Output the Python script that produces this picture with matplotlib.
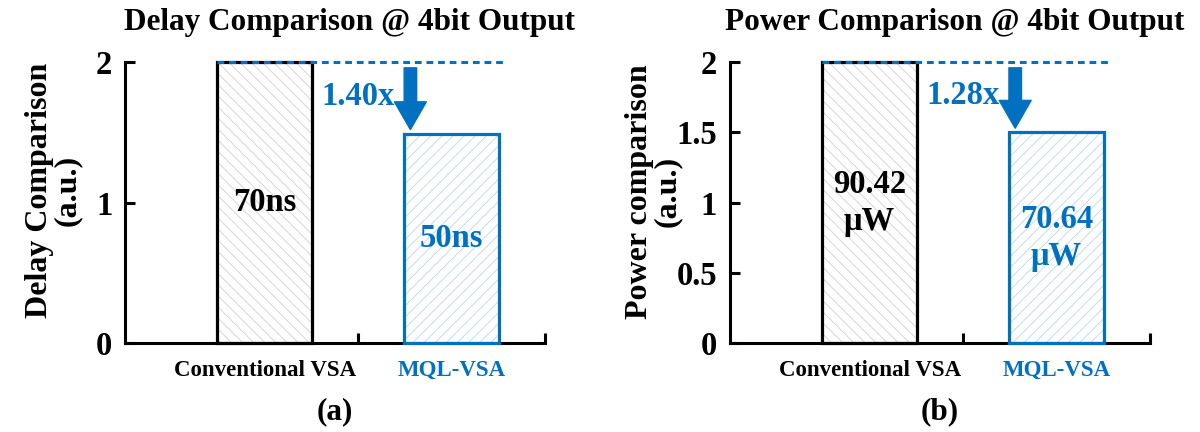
import matplotlib
matplotlib.use("Agg")
import matplotlib.pyplot as plt

# =============================================================================
#   DATA
# =============================================================================

categories = ["Conventional VSA", "MQL-VSA"]

delay_values = [2.0, 1.49]
delay_labels = ["70ns", "50ns"]
delay_ratio = "1.40x"

power_values = [2.0, 1.5]
power_labels = ["90.42\nμW", "70.64\nμW"]
power_ratio = "1.28x"

titles = ["Delay Comparison @ 4bit Output", "Power Comparison @ 4bit Output"]
ylabels = ["Delay Comparison\n(a.u.)", "Power comparison\n(a.u.)"]
yticks = [[0, 1, 2], [0, 0.5, 1, 1.5, 2]]
ytick_labels = [["0", "1", "2"], ["0", "0.5", "1", "1.5", "2"]]
panel_tags = ["(a)", "(b)"]

# =============================================================================
#   STYLE
# =============================================================================

BLUE = "#0070C0"
BAR_COLORS = ["black", BLUE]
HATCH_COLORS = ["#d6d6d6", "#c2dcf2"]
HATCHES = ["\\\\\\", "///"]

plt.rcParams["font.family"] = ["Liberation Serif", "DejaVu Serif"]
plt.rcParams["font.weight"] = "bold"
plt.rcParams["axes.labelweight"] = "bold"
plt.rcParams["hatch.linewidth"] = 0.7
plt.rcParams["axes.linewidth"] = 2.2

BIG = 23.5
SMALL = 16.5


def draw_panel(ax, values, bar_labels, ratio, title, ylabel, ticks, tick_labels, tag):
    x = list(range(len(values)))
    width = 0.51

    # hatched fill, then the outline on top
    for i, v in enumerate(values):
        ax.bar(x[i], v, width, color="white", edgecolor=HATCH_COLORS[i],
               hatch=HATCHES[i], linewidth=0, zorder=2)
        ax.bar(x[i], v, width, fill=False, edgecolor=BAR_COLORS[i],
               linewidth=2.3, zorder=3, clip_on=False)
        ax.text(x[i], v / 2, bar_labels[i], ha="center", va="center",
                fontsize=BIG, color=BAR_COLORS[i], linespacing=1.25, zorder=4)

    # reference line at the conventional height
    ax.plot([x[0] - width / 2, 1.3], [values[0], values[0]], color=BLUE,
            linestyle=(0, (2.2, 1.6)), linewidth=2.2, zorder=5, clip_on=False)

    # reduction arrow and ratio label
    ax.annotate("", xy=(0.78, values[1] + 0.03), xytext=(0.78, values[0] - 0.04),
                arrowprops=dict(facecolor=BLUE, edgecolor=BLUE, width=9,
                                headwidth=23, headlength=20, shrink=0),
                zorder=5)
    ax.text(0.5, (values[0] + values[1]) / 2 + 0.01, ratio, ha="center", va="center",
            fontsize=BIG, color=BLUE)

    ax.set_xlim(-0.75, 1.5)
    ax.set_ylim(0, 2)
    ax.set_yticks(ticks)
    ax.set_yticklabels(tick_labels, fontsize=BIG)
    ax.tick_params(axis="y", direction="in", length=7, width=2.2, pad=9)

    ax.set_xticks(x)
    ax.set_xticklabels(categories, fontsize=SMALL)
    ax.get_xticklabels()[1].set_color(BLUE)
    ax.tick_params(axis="x", which="major", length=0, pad=12)
    ax.set_xticks([0.5, 1.5], minor=True)
    ax.tick_params(axis="x", which="minor", direction="in", length=7, width=2.2)

    for side in ["top", "right"]:
        ax.spines[side].set_visible(False)

    ax.set_ylabel(ylabel, fontsize=BIG - 0.5, linespacing=0.95)
    ax.text(0.535, 1.142, title, transform=ax.transAxes, ha="center",
            va="center", fontsize=BIG - 1)
    ax.text(0.5, -0.245, tag, transform=ax.transAxes, ha="center",
            va="center", fontsize=BIG - 1)


fig = plt.figure(figsize=(12, 4.32), dpi=100)
ax1 = fig.add_axes([0.104, 0.206, 0.350, 0.650])
ax2 = fig.add_axes([0.608, 0.206, 0.350, 0.650])

draw_panel(ax1, delay_values, delay_labels, delay_ratio, titles[0], ylabels[0],
           yticks[0], ytick_labels[0], panel_tags[0])
draw_panel(ax2, power_values, power_labels, power_ratio, titles[1], ylabels[1],
           yticks[1], ytick_labels[1], panel_tags[1])

ax1.yaxis.set_label_coords(-0.102, 0.544)
ax2.yaxis.set_label_coords(-0.114, 0.54)

fig.savefig("out.png", dpi=100)
